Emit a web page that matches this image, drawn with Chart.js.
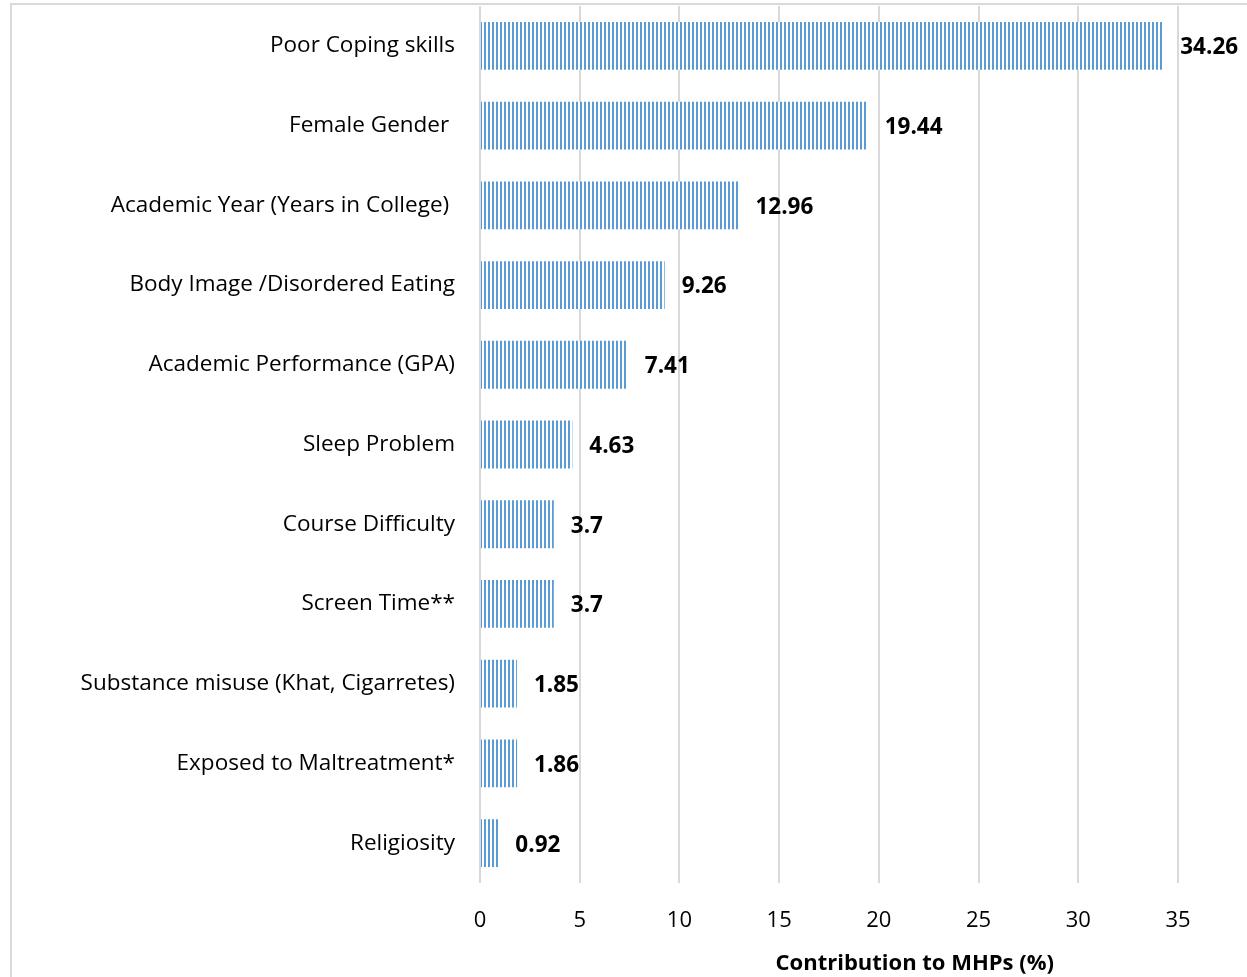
<!DOCTYPE html>
<html>
<head>
<meta charset="utf-8">
<script src="https://cdn.jsdelivr.net/npm/chart.js@4.4.1/dist/chart.umd.min.js"></script>
<style>
  html, body { margin: 0; padding: 0; background: #fff; }
  #wrap { position: relative; width: 1247px; height: 977px; overflow: hidden; }
  #frame { position: absolute; left: 10px; top: 3px; width: 1300px; height: 1100px; border: 2px solid #d9d9d9; box-sizing: border-box; }
  #c { position: absolute; left: 0; top: 0; }
</style>
</head>
<body>
<div id="wrap">
  <div id="frame"></div>
  <canvas id="c" width="1247" height="977"></canvas>
</div>
<script>
const categories = [
  "Poor Coping skills",
  "Female Gender ",
  "Academic Year (Years in College) ",
  "Body Image /Disordered Eating",
  "Academic Performance (GPA)",
  "Sleep Problem",
  "Course Difficulty",
  "Screen Time**",
  "Substance misuse (Khat, Cigarretes)",
  "Exposed to Maltreatment*",
  "Religiosity"
];
const values = [34.26, 19.44, 12.96, 9.26, 7.41, 4.63, 3.7, 3.7, 1.85, 1.86, 0.92];
const xTicks = [0, 5, 10, 15, 20, 25, 30, 35];
const axisTitle = "Contribution to MHPs (%)";

const FONT = "'Open Sans', 'Noto Sans', sans-serif";

function makePattern(ctx) {
  const p = document.createElement('canvas');
  p.width = 4; p.height = 4;
  const pc = p.getContext('2d');
  pc.fillStyle = '#ffffff';
  pc.fillRect(0, 0, 4, 4);
  pc.fillStyle = '#5b9bd5';
  pc.fillRect(0, 0, 2, 4);
  return ctx.createPattern(p, 'repeat');
}

const valueLabels = {
  id: 'valueLabels',
  afterDatasetsDraw(chart) {
    const ctx = chart.ctx;
    const meta = chart.getDatasetMeta(0);
    ctx.save();
    ctx.font = "bold 22.5px " + FONT;
    ctx.fillStyle = '#000';
    ctx.textAlign = 'left';
    ctx.textBaseline = 'middle';
    meta.data.forEach((bar, i) => {
      ctx.fillText(String(values[i]), bar.x + 17, bar.y + 2);
    });
    ctx.restore();
  }
};

const axisTitlePlugin = {
  id: 'axisTitlePlugin',
  afterDraw(chart) {
    const ctx = chart.ctx;
    const xs = chart.scales.x;
    ctx.save();
    ctx.font = "bold 22px " + FONT;
    ctx.fillStyle = '#000';
    ctx.textAlign = 'center';
    ctx.textBaseline = 'middle';
    // title sits centred under the right part of the axis, as in the reference
    const cx = xs.getPixelForValue(21.8);
    ctx.fillText(axisTitle, cx, xs.bottom - 13);
    ctx.restore();
  }
};

const canvas = document.getElementById('c');
const ctx = canvas.getContext('2d');

new Chart(ctx, {
  type: 'bar',
  data: {
    labels: categories,
    datasets: [{
      data: values,
      backgroundColor: makePattern(ctx),
      borderWidth: 0,
      barPercentage: 0.6,
      categoryPercentage: 1.0
    }]
  },
  options: {
    indexAxis: 'y',
    responsive: false,
    animation: false,
    devicePixelRatio: 1,
    layout: { padding: { top: 6, right: 69, bottom: 0, left: 0 } },
    plugins: {
      legend: { display: false },
      tooltip: { enabled: false }
    },
    scales: {
      x: {
        type: 'linear',
        min: 0,
        max: 35,
        afterBuildTicks(axis) { axis.ticks = xTicks.map(v => ({ value: v })); },
        grid: { color: '#d9d9d9', lineWidth: 2, drawTicks: false },
        border: { display: false },
        ticks: {
          color: '#000',
          font: { family: FONT, size: 22 },
          padding: 25,
          maxRotation: 0
        },
        title: { display: false },
        afterFit(axis) { axis.height = 94; axis.paddingLeft = 0; axis.paddingRight = 0; }
      },
      y: {
        grid: { display: false, drawTicks: false },
        border: { display: false },
        ticks: {
          color: '#000',
          font: { family: FONT, size: 22.5 },
          padding: 25,
          autoSkip: false
        },
        afterFit(axis) { axis.width = 480; axis.paddingTop = 0; axis.paddingBottom = 0; }
      }
    }
  },
  plugins: [valueLabels, axisTitlePlugin]
});
</script>
</body>
</html>
